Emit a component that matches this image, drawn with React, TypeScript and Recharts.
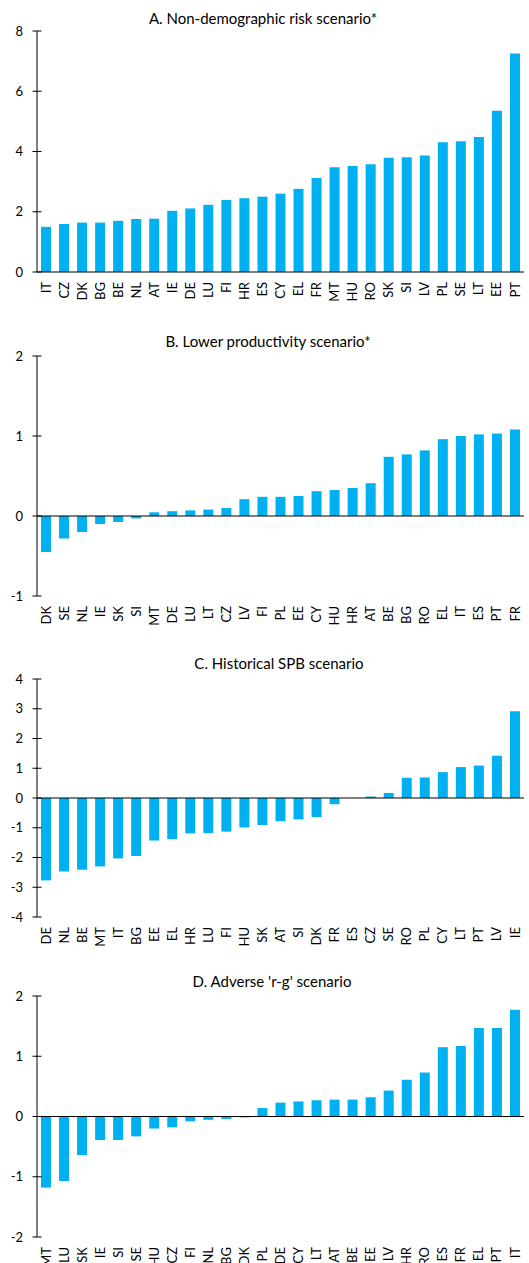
import { BarChart, Bar, XAxis, YAxis, ReferenceLine } from 'recharts';

const FONT = 'Lato, "Open Sans", sans-serif';
const BLUE = '#00B0F0';

// A. Non-demographic risk scenario*
const countriesA = ['IT', 'CZ', 'DK', 'BG', 'BE', 'NL', 'AT', 'IE', 'DE', 'LU', 'FI', 'HR', 'ES', 'CY', 'EL', 'FR', 'MT', 'HU', 'RO', 'SK', 'SI', 'LV', 'PL', 'SE', 'LT', 'EE', 'PT'];
const valuesA = [1.5, 1.59, 1.64, 1.64, 1.7, 1.76, 1.77, 2.03, 2.11, 2.23, 2.39, 2.45, 2.5, 2.6, 2.76, 3.12, 3.48, 3.52, 3.58, 3.79, 3.81, 3.87, 4.31, 4.34, 4.48, 5.35, 7.25];
const ticksA = [0, 2, 4, 6, 8];

// B. Lower productivity scenario*
const countriesB = ['DK', 'SE', 'NL', 'IE', 'SK', 'SI', 'MT', 'DE', 'LU', 'LT', 'CZ', 'LV', 'FI', 'PL', 'EE', 'CY', 'HU', 'HR', 'AT', 'BE', 'BG', 'RO', 'EL', 'IT', 'ES', 'PT', 'FR'];
const valuesB = [-0.45, -0.28, -0.2, -0.1, -0.075, -0.03, 0.046, 0.06, 0.07, 0.08, 0.1, 0.21, 0.24, 0.24, 0.25, 0.31, 0.325, 0.35, 0.41, 0.74, 0.77, 0.82, 0.96, 1.0, 1.02, 1.03, 1.08];
const ticksB = [-1, 0, 1, 2];

// C. Historical SPB scenario
const countriesC = ['DE', 'NL', 'BE', 'MT', 'IT', 'BG', 'EE', 'EL', 'HR', 'LU', 'FI', 'HU', 'SK', 'AT', 'SI', 'DK', 'FR', 'ES', 'CZ', 'SE', 'RO', 'PL', 'CY', 'LT', 'PT', 'LV', 'IE'];
const valuesC = [-2.77, -2.47, -2.41, -2.3, -2.03, -1.95, -1.43, -1.38, -1.19, -1.18, -1.13, -0.99, -0.91, -0.78, -0.72, -0.64, -0.21, 0, 0.05, 0.17, 0.68, 0.69, 0.87, 1.04, 1.09, 1.42, 2.92];
const ticksC = [-4, -3, -2, -1, 0, 1, 2, 3, 4];

// D. Adverse 'r-g' scenario
const countriesD = ['MT', 'LU', 'SK', 'IE', 'SI', 'SE', 'HU', 'CZ', 'FI', 'NL', 'BG', 'DK', 'PL', 'DE', 'CY', 'LT', 'AT', 'BE', 'EE', 'LV', 'HR', 'RO', 'ES', 'FR', 'EL', 'PT', 'IT'];
const valuesD = [-1.18, -1.07, -0.64, -0.39, -0.39, -0.33, -0.2, -0.18, -0.08, -0.055, -0.04, -0.015, 0.14, 0.23, 0.25, 0.27, 0.28, 0.28, 0.32, 0.43, 0.61, 0.73, 1.15, 1.17, 1.47, 1.47, 1.77];
const ticksD = [-2, -1, 0, 1, 2];

function YTick(props: any) {
  const { x, y, payload } = props;
  return (
    <g>
      <line x1={x + 9.5} x2={x + 18.5} y1={y} y2={y} stroke="#000" strokeWidth={1} />
      <text x={x} y={y} dy="0.35em" textAnchor="end" fontSize={13} fill="#000" fontFamily={FONT}>
        {payload.value}
      </text>
    </g>
  );
}

function XTick(props: any) {
  const { x, y, payload } = props;
  return (
    <text
      x={x}
      y={y}
      dy="0.35em"
      transform={`rotate(-90, ${x}, ${y})`}
      textAnchor="end"
      fontSize={13}
      fill="#000"
      fontFamily={FONT}
    >
      {payload.value}
    </text>
  );
}

interface PanelProps {
  title: string;
  titleX: number;
  titleY: number;
  top: number;
  plotTop: number;
  plotBottom: number;
  categories: string[];
  values: number[];
  ticks: number[];
}

function Panel({ title, titleX, titleY, top, plotTop, plotBottom, categories, values, ticks }: PanelProps) {
  const data = categories.map((c, i) => ({ name: c, value: values[i] }));
  const axisH = 40;
  const height = plotBottom - top + axisH;
  return (
    <>
      <div
        style={{
          position: 'absolute',
          left: titleX - 200,
          top: titleY - 10,
          width: 400,
          height: 20,
          lineHeight: '20px',
          textAlign: 'center',
          fontFamily: FONT,
          fontSize: 15,
          color: '#000',
        }}
      >
        {title}
      </div>
      <div style={{ position: 'absolute', left: 0, top }}>
        <BarChart
          width={529}
          height={height}
          data={data}
          margin={{ top: plotTop - top, right: 5, bottom: 0, left: 0 }}
          barSize={10}
        >
          <XAxis
            dataKey="name"
            interval={0}
            axisLine={false}
            tickLine={false}
            tickSize={0}
            tickMargin={10}
            height={axisH}
            tick={<XTick />}
          />
          <YAxis
            domain={[ticks[0], ticks[ticks.length - 1]]}
            ticks={ticks}
            interval={0}
            width={37}
            axisLine={{ stroke: '#000', strokeWidth: 1 }}
            tickLine={false}
            tickSize={0}
            tickMargin={14}
            tick={<YTick />}
          />
          <Bar dataKey="value" fill={BLUE} isAnimationActive={false} />
          <ReferenceLine y={0} stroke="#000" strokeWidth={1.2} />
        </BarChart>
      </div>
    </>
  );
}

export default function App() {
  return (
    <div
      style={{
        position: 'absolute',
        left: 0,
        top: 0,
        width: 529,
        height: 1263,
        overflow: 'hidden',
        background: '#fff',
      }}
    >
      <Panel
        title="A. Non-demographic risk scenario*"
        titleX={263}
        titleY={18}
        top={0}
        plotTop={31}
        plotBottom={272}
        categories={countriesA}
        values={valuesA}
        ticks={ticksA}
      />
      <Panel
        title="B. Lower productivity scenario*"
        titleX={268}
        titleY={341}
        top={320}
        plotTop={356}
        plotBottom={596}
        categories={countriesB}
        values={valuesB}
        ticks={ticksB}
      />
      <Panel
        title="C. Historical SPB scenario"
        titleX={279}
        titleY={663}
        top={640}
        plotTop={679}
        plotBottom={917}
        categories={countriesC}
        values={valuesC}
        ticks={ticksC}
      />
      <Panel
        title="D. Adverse 'r-g' scenario"
        titleX={272}
        titleY={981}
        top={960}
        plotTop={996}
        plotBottom={1237}
        categories={countriesD}
        values={valuesD}
        ticks={ticksD}
      />
    </div>
  );
}
